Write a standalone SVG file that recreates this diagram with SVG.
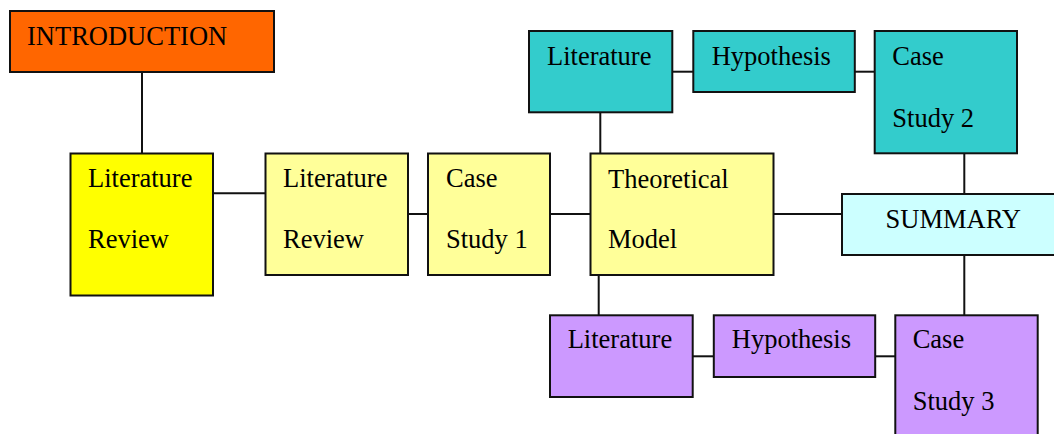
<svg xmlns="http://www.w3.org/2000/svg" width="1054" height="434" viewBox="0 0 1054 434">
<style>
rect{stroke:#111;stroke-width:2}
text{font-family:"Liberation Serif","Times New Roman",serif;font-size:26.5px;fill:#000}
#connectors line{stroke:#111;stroke-width:2}
.orange{fill:#FF6600}.yellow{fill:#FFFF00}.ly{fill:#FFFF99}.teal{fill:#33CCCC}.cyan{fill:#CCFFFF}.purple{fill:#CC99FF}
</style>
<rect width="1054" height="434" fill="#fff" style="stroke:none"/>
<g id="connectors">
<line x1="142" y1="72" x2="142" y2="153.5"/>
<line x1="213" y1="193.3" x2="265.5" y2="193.3"/>
<line x1="408" y1="214" x2="428" y2="214"/>
<line x1="550" y1="214" x2="590.5" y2="214"/>
<line x1="773.5" y1="214" x2="842" y2="214"/>
<line x1="600.3" y1="112.3" x2="600.3" y2="153.5"/>
<line x1="672.3" y1="71.7" x2="693.3" y2="71.7"/>
<line x1="854.8" y1="71.7" x2="874.7" y2="71.7"/>
<line x1="964.3" y1="153.3" x2="964.3" y2="194"/>
<line x1="598.7" y1="275" x2="598.7" y2="315.3"/>
<line x1="692.7" y1="356.3" x2="713.8" y2="356.3"/>
<line x1="875.2" y1="356.3" x2="895.3" y2="356.3"/>
<line x1="964.3" y1="255" x2="964.3" y2="315.3"/>
</g>
<g id="intro"><rect class="orange" x="10" y="11" width="264" height="61"/><text x="27" y="45">INTRODUCTION</text></g>
<g id="lr1"><rect class="yellow" x="70.5" y="153.5" width="142.5" height="142"/><text x="88" y="187">Literature</text><text x="88" y="247.5">Review</text></g>
<g id="lr2"><rect class="ly" x="265.5" y="153.5" width="142.5" height="121.5"/><text x="283" y="187">Literature</text><text x="283" y="247.5">Review</text></g>
<g id="cs1"><rect class="ly" x="428" y="153.5" width="122" height="121.5"/><text x="446" y="187">Case</text><text x="446" y="247.5">Study 1</text></g>
<g id="tm"><rect class="ly" x="590.5" y="153.5" width="183" height="121.5"/><text x="608" y="187.5">Theoretical</text><text x="608" y="248">Model</text></g>
<g id="summary"><rect class="cyan" x="842" y="194" width="220" height="61"/><text x="885.5" y="228">SUMMARY</text></g>
<g id="lit2"><rect class="teal" x="529" y="31" width="143.3" height="81.3"/><text x="547" y="65">Literature</text></g>
<g id="hyp2"><rect class="teal" x="693.3" y="31" width="161.5" height="61"/><text x="711.7" y="65">Hypothesis</text></g>
<g id="cs2"><rect class="teal" x="874.7" y="31" width="142.3" height="122.3"/><text x="892.3" y="65">Case</text><text x="892.3" y="126.7">Study 2</text></g>
<g id="lit3"><rect class="purple" x="550" y="315.3" width="142.7" height="81.7"/><text x="567.7" y="348.3">Literature</text></g>
<g id="hyp3"><rect class="purple" x="713.8" y="315.3" width="161.4" height="61.7"/><text x="731.8" y="348.3">Hypothesis</text></g>
<g id="cs3"><rect class="purple" x="895.3" y="315.3" width="142.4" height="130"/><text x="912.7" y="348.3">Case</text><text x="912.7" y="410.3">Study 3</text></g>
</svg>
